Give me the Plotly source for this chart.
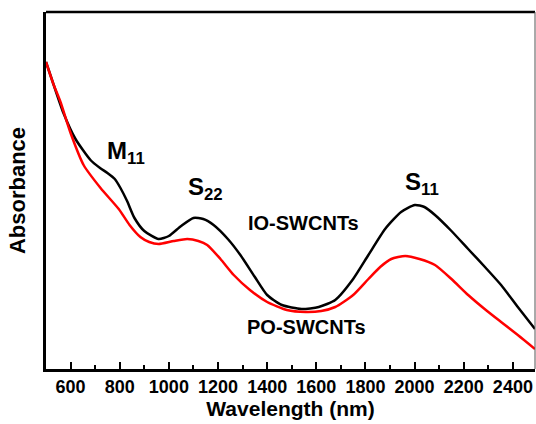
import plotly.graph_objects as go

# Wavelength (nm) and absorbance (arbitrary units)
io_wavelength = [500, 530, 571, 620, 681, 720, 750, 780, 803, 830, 860, 900, 958, 1000, 1050, 1100, 1140, 1182, 1240, 1291, 1350, 1400, 1460, 1540, 1610, 1677, 1750, 1812, 1880, 1945, 2001, 2040, 2083, 2150, 2218, 2290, 2352, 2420, 2490]
io_absorbance = [307, 285, 256, 230, 209, 201, 196, 190, 181, 168, 151, 138, 130, 133, 143, 151, 150, 144, 130, 114, 92, 74, 64, 60, 62, 69, 90, 114, 140, 157, 164, 162, 154, 138, 120, 101, 84, 62, 40]

po_wavelength = [500, 530, 559, 600, 653, 722, 796, 840, 884, 920, 958, 1020, 1075, 1120, 1156, 1210, 1264, 1330, 1400, 1480, 1557, 1620, 1677, 1750, 1812, 1860, 1905, 1962, 2020, 2083, 2150, 2218, 2290, 2352, 2420, 2490]
po_absorbance = [307, 285, 267, 236, 204, 181, 160, 144, 132, 127, 125, 128, 130, 128, 124, 110, 94, 79, 67, 59, 57, 58, 62, 74, 90, 102, 110, 113, 110, 104, 90, 74, 59, 47, 34, 20]

x_ticks = [600, 800, 1000, 1200, 1400, 1600, 1800, 2000, 2200, 2400]

FONT = "Liberation Sans, Arial, sans-serif"

fig = go.Figure()
fig.add_trace(go.Scatter(x=io_wavelength, y=io_absorbance, mode="lines",
                         line=dict(color="black", width=2.5, shape="spline", smoothing=0.6),
                         name="IO-SWCNTs"))
fig.add_trace(go.Scatter(x=po_wavelength, y=po_absorbance, mode="lines",
                         line=dict(color="#ff0000", width=2.5, shape="spline", smoothing=0.6),
                         name="PO-SWCNTs"))

lab = dict(family=FONT, size=24, color="black")
lab2 = dict(family=FONT, size=20, color="black")
annotations = [
    dict(x=827, y=217, text="<b>M<sub>11</sub></b>", font=lab),
    dict(x=1149, y=181, text="<b>S<sub>22</sub></b>", font=lab),
    dict(x=2032, y=186, text="<b>S<sub>11</sub></b>", font=lab),
    dict(x=1547, y=146, text="<b>IO-SWCNTs</b>", font=lab2),
    dict(x=1560, y=42, text="<b>PO-SWCNTs</b>", font=lab2),
]
for a in annotations:
    a.update(xref="x", yref="y", showarrow=False)

fig.update_layout(
    width=536, height=424,
    margin=dict(l=46, r=1, t=12, b=55),
    paper_bgcolor="white", plot_bgcolor="white",
    showlegend=False,
    annotations=annotations,
    xaxis=dict(range=[500, 2490], tickvals=x_ticks, ticktext=[f"<b>{t}</b>" for t in x_ticks],
               ticks="inside", ticklen=7, tickwidth=2, tickcolor="black",
               minor=dict(dtick=100, tick0=500, ticks="inside", ticklen=4, tickwidth=2, tickcolor="black"),
               showline=True, linewidth=2.5, linecolor="black", showgrid=False, zeroline=False,
               automargin=False,
               tickfont=dict(family=FONT, size=18, color="black"),
               title=dict(text="<b>Wavelength (nm)</b>", standoff=0,
                          font=dict(family=FONT, size=21, color="black"))),
    yaxis=dict(range=[0, 357], showticklabels=False, ticks="",
               showline=True, linewidth=2.5, linecolor="black", showgrid=False, zeroline=False,
               automargin=False,
               title=dict(text="<b>Absorbance</b>", standoff=12,
                          font=dict(family=FONT, size=22, color="black"))),
    shapes=[
        dict(type="line", xref="paper", yref="paper", x0=0, x1=1, y0=1, y1=1, line=dict(color="black", width=2.5)),
        dict(type="line", xref="paper", yref="paper", x0=1, x1=1, y0=0, y1=1, line=dict(color="#555555", width=1)),
    ],
)

fig.write_html("out.html", config={"displayModeBar": False},
               post_script="document.body.style.margin='0';document.body.style.padding='0';document.body.style.overflow='hidden';")
